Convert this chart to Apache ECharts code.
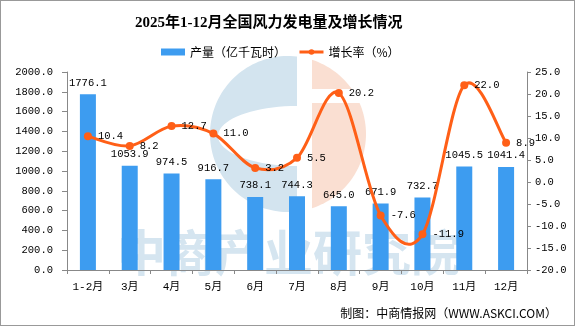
<!DOCTYPE html>
<html>
<head>
<meta charset="utf-8">
<script src="https://cdn.jsdelivr.net/npm/echarts@6/dist/echarts.min.js"></script>
<style>
  html, body { margin: 0; padding: 0; background: #fff; }
  #chart { width: 575px; height: 326px; box-sizing: border-box; border: 1px solid #999; }
</style>
</head>
<body>
<div id="chart"></div>
<script>
// Monthly wind power output and year-on-year growth, 2025
const months = ['1-2月', '3月', '4月', '5月', '6月', '7月', '8月', '9月', '10月', '11月', '12月'];
const output = [1776.1, 1053.9, 974.5, 916.7, 738.1, 744.3, 645.0, 671.9, 732.7, 1045.5, 1041.4];
const growth = [10.4, 8.2, 12.7, 11.0, 3.2, 5.5, 20.2, -7.6, -11.9, 22.0, 8.9];

const numFont = "'Liberation Mono', 'Noto Sans CJK SC', monospace";
const cjkFont = "'Noto Sans CJK SC', sans-serif";
const lineColor = '#ff5f17';

// Background watermark: circular logo (blue "C" + salmon half) and institute name
const cx = 287, cy = 133, r = 78;
function logoBlue() {
  const pts = [];
  const xr = 296;
  const dy = Math.sqrt(r * r - (xr - cx) * (xr - cx));
  const yTop = cy - dy, yBot = cy + dy;
  pts.push([xr, yTop]);
  const angTop = Math.atan2(yTop - cy, xr - cx);
  const angBot = Math.atan2(yBot - cy, xr - cx) - 2 * Math.PI;
  for (let i = 1; i < 80; i++) {
    const a = angTop + (angBot - angTop) * i / 80;
    pts.push([cx + r * Math.cos(a), cy + r * Math.sin(a)]);
  }
  pts.push([xr, yBot]);
  // inner opening: half ellipse facing right
  const hx = xr, hy = 135, hrx = 79, hry = 30;
  pts.push([hx, hy + hry]);
  for (let i = 1; i < 40; i++) {
    const a = Math.PI / 2 + Math.PI * i / 40;
    pts.push([hx + hrx * Math.cos(a), hy + hry * Math.sin(a)]);
  }
  pts.push([hx, hy - hry]);
  return pts;
}
function logoSalmon() {
  const pts = [];
  const xl = 311;
  const h = Math.sqrt(r * r - (xl - cx) * (xl - cx));
  const a1 = Math.atan2(-h, xl - cx), a2 = Math.atan2(h, xl - cx);
  for (let i = 0; i <= 60; i++) {
    const a = a1 + (a2 - a1) * i / 60;
    pts.push([cx + r * Math.cos(a), cy + r * Math.sin(a)]);
  }
  return pts;
}
const watermarkChars = '中商产业研究院'.split('').map((ch, i) => ({
  type: 'text', z: -8, silent: true, left: 116 + i * 49, top: 227,
  style: { text: ch, font: "bold 49px 'Noto Sans CJK SC', sans-serif", fill: '#d5e5f0' }
}));

// Smooth growth curve: cubic Bezier segments with Catmull-Rom style control points
function renderCurve(params, api) {
  const i = params.dataIndex;
  const n = growth.length;
  if (i >= n - 1) return null;
  const clamp = j => Math.min(Math.max(j, 0), n - 1);
  const P = j => api.coord([clamp(j), growth[clamp(j)]]);
  const p0 = P(i - 1), p1 = P(i), p2 = P(i + 1), p3 = P(i + 2);
  const k = 1 / 6;
  return {
    type: 'bezierCurve',
    shape: {
      x1: p1[0], y1: p1[1],
      cpx1: p1[0] + (p2[0] - p0[0]) * k, cpy1: p1[1] + (p2[1] - p0[1]) * k,
      cpx2: p2[0] - (p3[0] - p1[0]) * k, cpy2: p2[1] - (p3[1] - p1[1]) * k,
      x2: p2[0], y2: p2[1]
    },
    style: { stroke: lineColor, lineWidth: 3, fill: null, lineCap: 'round' }
  };
}

const chart = echarts.init(document.getElementById('chart'), null, { renderer: 'canvas' });

chart.setOption({
  backgroundColor: '#fff',
  animation: false,
  title: {
    text: '2025年1-12月全国风力发电量及增长情况',
    left: 129,
    top: 10,
    textStyle: {
      fontFamily: "'Liberation Serif', 'Noto Sans CJK SC', serif",
      fontSize: 15,
      fontWeight: 'bold',
      color: '#000'
    }
  },
  legend: {
    left: 155,
    top: 40,
    itemWidth: 24,
    itemHeight: 7,
    itemGap: 12,
    textStyle: { fontFamily: cjkFont, fontSize: 12, color: '#000' },
    data: [
      { name: '产量（亿千瓦时）', icon: 'rect' },
      {
        name: '增长率（%）',
        itemStyle: { color: lineColor },
        lineStyle: { color: lineColor, width: 3, opacity: 1 }
      }
    ]
  },
  graphic: [
    { type: 'polygon', z: -10, silent: true, shape: { points: logoBlue() }, style: { fill: '#d3e4ef' } },
    { type: 'polygon', z: -10, silent: true, shape: { points: logoSalmon() }, style: { fill: '#fadfd2' } },
    { type: 'rect', z: -9, silent: true, shape: { x: 305, y: 88, width: 70, height: 14 }, style: { fill: '#fff' } },
    ...watermarkChars,
    {
      type: 'text', right: 17, top: 306,
      style: {
        text: '制图：中商情报网（WWW.ASKCI.COM）',
        font: "12px 'Noto Sans CJK SC', sans-serif",
        fill: '#000'
      }
    }
  ],
  grid: { left: 66, right: 47, top: 71, bottom: 55 },
  xAxis: {
    type: 'category',
    data: months,
    boundaryGap: true,
    axisLine: { lineStyle: { color: '#888' } },
    axisTick: { show: true, length: 4, lineStyle: { color: '#888' } },
    axisLabel: { color: '#000', fontFamily: numFont, fontSize: 11, margin: 12 }
  },
  yAxis: [
    {
      type: 'value',
      min: 0, max: 2000, interval: 200,
      axisLine: { show: true, lineStyle: { color: '#888' } },
      axisTick: { show: true, length: 5, lineStyle: { color: '#888' } },
      splitLine: { show: false },
      axisLabel: { color: '#000', fontFamily: numFont, fontSize: 10.5, margin: 14, formatter: v => v.toFixed(1) }
    },
    {
      type: 'value',
      min: -20, max: 25, interval: 5,
      axisLine: { show: true, lineStyle: { color: '#888' } },
      axisTick: { show: true, length: 4, lineStyle: { color: '#888' } },
      splitLine: { show: false },
      axisLabel: { color: '#000', fontFamily: numFont, fontSize: 10.5, margin: 8, formatter: v => v.toFixed(1) }
    }
  ],
  series: [
    {
      name: '产量（亿千瓦时）',
      type: 'bar',
      data: output,
      barWidth: 16,
      itemStyle: { color: '#3d9cf0' },
      label: {
        show: true, position: 'top', distance: 6,
        color: '#000', fontFamily: numFont, fontSize: 10.5,
        formatter: p => p.value.toFixed(1)
      }
    },
    {
      // markers and value labels of the growth series; the curve itself is drawn below
      name: '增长率（%）',
      type: 'line',
      yAxisIndex: 1,
      data: growth,
      symbol: 'circle',
      symbolSize: 8,
      z: 4,
      lineStyle: { color: lineColor, width: 3, opacity: 0 },
      itemStyle: { color: lineColor },
      label: {
        show: true, position: 'right', distance: 6,
        color: '#000', fontFamily: numFont, fontSize: 10.5,
        formatter: p => p.value.toFixed(1)
      }
    },
    {
      name: '增长率（%）',
      type: 'custom',
      yAxisIndex: 1,
      data: growth.map((v, i) => [i, v]),
      renderItem: renderCurve,
      itemStyle: { color: lineColor },
      z: 3,
      silent: true
    }
  ]
});
</script>
</body>
</html>
